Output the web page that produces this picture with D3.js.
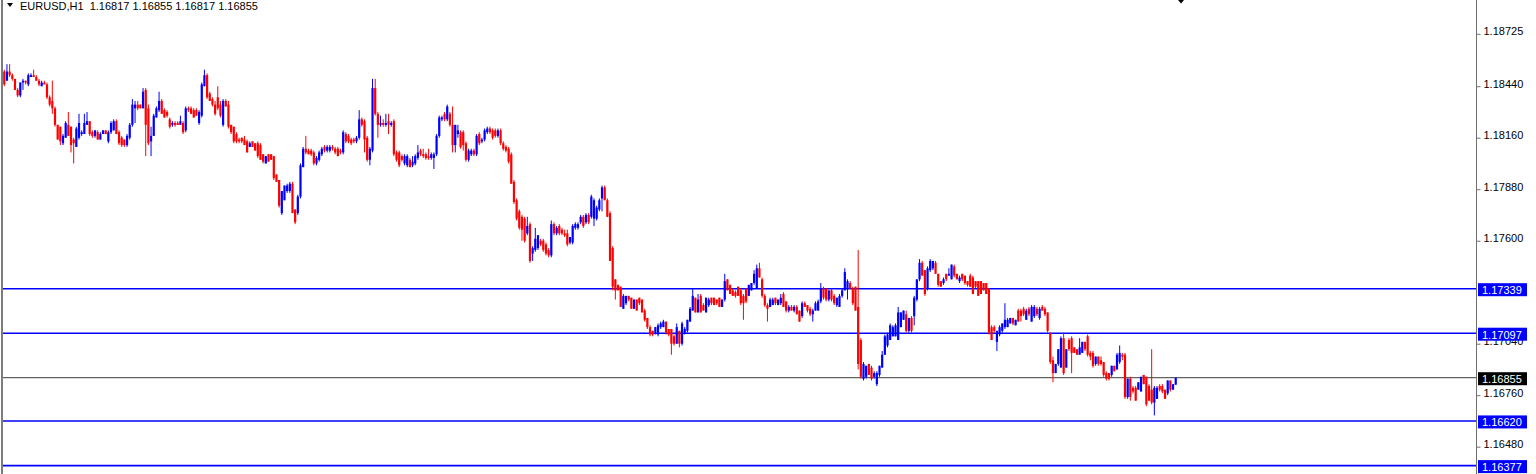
<!DOCTYPE html>
<html><head><meta charset="utf-8">
<script src="https://cdn.jsdelivr.net/npm/d3@7"></script>
<style>html,body{margin:0;padding:0;background:#fff;overflow:hidden}svg{display:block}</style>
</head><body>
<svg id="c" width="1536" height="474"></svg>
<script>
const symbolTitle = "EURUSD,H1";
const lastBar = ["1.16817", "1.16855", "1.16817", "1.16855"];
const opens = [
1.1852,1.1847,1.1852,1.1850,1.1848,1.1842,1.1839,1.1846,1.1847,1.1845,
1.1849,1.1850,1.1849,1.1847,1.1844,1.1846,1.1845,1.1838,1.1836,1.1832,
1.1823,1.1822,1.1813,1.1816,1.1823,1.1822,1.1815,1.1811,1.1816,1.1818,
1.1818,1.1823,1.1825,1.1819,1.1817,1.1819,1.1815,1.1818,1.1820,1.1814,
1.1819,1.1820,1.1825,1.1819,1.1816,1.1815,1.1812,1.1816,1.1823,1.1832,
1.1834,1.1834,1.1832,1.1842,1.1832,1.1814,1.1817,1.1827,1.1831,1.1836,
1.1831,1.1830,1.1826,1.1823,1.1824,1.1824,1.1823,1.1824,1.1820,1.1832,
1.1832,1.1831,1.1831,1.1824,1.1828,1.1844,1.1850,1.1840,1.1837,1.1834,
1.1838,1.1834,1.1823,1.1836,1.1834,1.1823,1.1822,1.1818,1.1815,1.1816,
1.1815,1.1814,1.1811,1.1814,1.1813,1.1813,1.1812,1.1807,1.1802,1.1807,
1.1807,1.1806,1.1796,1.1793,1.1775,1.1782,1.1787,1.1787,1.1791,1.1777,
1.1775,1.1784,1.1800,1.1810,1.1809,1.1809,1.1808,1.1802,1.1804,1.1807,
1.1811,1.1809,1.1809,1.1811,1.1810,1.1810,1.1809,1.1808,1.1818,1.1817,
1.1815,1.1815,1.1814,1.1816,1.1826,1.1825,1.1816,1.1804,1.1809,1.1843,
1.1829,1.1823,1.1824,1.1823,1.1825,1.1823,1.1825,1.1808,1.1808,1.1806,
1.1802,1.1801,1.1804,1.1801,1.1802,1.1805,1.1809,1.1807,1.1807,1.1806,
1.1805,1.1805,1.1807,1.1817,1.1826,1.1829,1.1826,1.1829,1.1823,1.1812,
1.1818,1.1819,1.1819,1.1813,1.1804,1.1807,1.1809,1.1807,1.1818,1.1814,
1.1815,1.1819,1.1821,1.1820,1.1820,1.1817,1.1820,1.1813,1.1811,1.1810,
1.1807,1.1792,1.1782,1.1776,1.1773,1.1772,1.1764,1.1769,1.1753,1.1755,
1.1756,1.1760,1.1760,1.1758,1.1755,1.1752,1.1769,1.1764,1.1768,1.1766,
1.1764,1.1764,1.1759,1.1759,1.1767,1.1767,1.1770,1.1773,1.1770,1.1774,
1.1773,1.1772,1.1772,1.1777,1.1783,1.1789,1.1782,1.1775,1.1756,1.1739,
1.1736,1.1735,1.1723,1.1726,1.1730,1.1729,1.1723,1.1728,1.1729,1.1728,
1.1722,1.1718,1.1713,1.1711,1.1710,1.1709,1.1713,1.1713,1.1716,1.1712,
1.1712,1.1708,1.1704,1.1711,1.1704,1.1710,1.1711,1.1716,1.1722,1.1729,
1.1721,1.1730,1.1725,1.1721,1.1725,1.1729,1.1729,1.1728,1.1729,1.1724,
1.1728,1.1739,1.1736,1.1733,1.1732,1.1735,1.1733,1.1730,1.1734,1.1730,
1.1733,1.1737,1.1734,1.1745,1.1739,1.1730,1.1725,1.1724,1.1725,1.1729,
1.1725,1.1726,1.1731,1.1727,1.1722,1.1724,1.1722,1.1724,1.1722,1.1719,
1.1726,1.1725,1.1723,1.1720,1.1722,1.1722,1.1727,1.1734,1.1734,1.1728,
1.1733,1.1730,1.1725,1.1724,1.1730,1.1733,1.1734,1.1737,1.1734,1.1735,
1.1724,1.1706,1.1685,1.1686,1.1693,1.1691,1.1686,1.1682,1.1687,1.1691,
1.1698,1.1703,1.1706,1.1708,1.1708,1.1706,1.1713,1.1717,1.1720,1.1711,
1.1718,1.1719,1.1728,1.1739,1.1748,1.1744,1.1734,1.1744,1.1745,1.1748,
1.1742,1.1738,1.1737,1.1742,1.1741,1.1739,1.1746,1.1742,1.1738,1.1742,
1.1741,1.1738,1.1741,1.1740,1.1738,1.1738,1.1738,1.1737,1.1737,1.1734,
1.1713,1.1713,1.1705,1.1709,1.1711,1.1713,1.1713,1.1715,1.1718,1.1714,
1.1722,1.1722,1.1723,1.1717,1.1723,1.1716,1.1719,1.1723,1.1718,1.1724,
1.1723,1.1721,1.1710,1.1695,1.1688,1.1693,1.1691,1.1707,1.1691,1.1706,
1.1707,1.1702,1.1701,1.1698,1.1699,1.1705,1.1708,1.1699,1.1699,1.1693,
1.1697,1.1695,1.1694,1.1688,1.1688,1.1687,1.1692,1.1690,1.1694,1.1698,
1.1698,1.1675,1.1685,1.1680,1.1680,1.1679,1.1678,1.1687,1.1686,1.1681,
1.1679,1.1672,1.1674,1.1681,1.1681,1.1679,1.1677,1.1684,1.1679,1.16817];
const highs = [
1.1853,1.1856,1.1856,1.1851,1.1848,1.1843,1.1846,1.1848,1.1847,1.1851,
1.1851,1.1853,1.1850,1.1848,1.1847,1.1847,1.1846,1.1839,1.1847,1.1833,
1.1823,1.1822,1.1818,1.1825,1.1830,1.1822,1.1816,1.1822,1.1829,1.1820,
1.1829,1.1830,1.1825,1.1820,1.1820,1.1820,1.1819,1.1820,1.1820,1.1820,
1.1825,1.1826,1.1826,1.1820,1.1817,1.1815,1.1818,1.1824,1.1837,1.1836,
1.1836,1.1834,1.1843,1.1843,1.1834,1.1822,1.1829,1.1833,1.1841,1.1837,
1.1832,1.1831,1.1827,1.1825,1.1825,1.1825,1.1828,1.1825,1.1833,1.1833,
1.1833,1.1832,1.1832,1.1831,1.1846,1.1853,1.1851,1.1841,1.1838,1.1836,
1.1844,1.1836,1.1837,1.1837,1.1836,1.1823,1.1822,1.1819,1.1816,1.1816,
1.1817,1.1815,1.1814,1.1814,1.1813,1.1814,1.1813,1.1807,1.1806,1.1807,
1.1807,1.1806,1.1796,1.1793,1.1787,1.1790,1.1791,1.1792,1.1792,1.1777,
1.1785,1.1802,1.1811,1.1817,1.1810,1.1810,1.1809,1.1806,1.1809,1.1811,
1.1812,1.1812,1.1812,1.1812,1.1811,1.1811,1.1810,1.1820,1.1819,1.1818,
1.1816,1.1816,1.1817,1.1831,1.1827,1.1826,1.1817,1.1811,1.1848,1.1848,
1.1830,1.1828,1.1826,1.1829,1.1829,1.1825,1.1826,1.1809,1.1809,1.1807,
1.1807,1.1807,1.1805,1.1806,1.1807,1.1812,1.1810,1.1810,1.1808,1.1810,
1.1808,1.1808,1.1818,1.1828,1.1828,1.1830,1.1834,1.1830,1.1833,1.1823,
1.1823,1.1820,1.1820,1.1814,1.1810,1.1810,1.1810,1.1818,1.1819,1.1816,
1.1821,1.1822,1.1822,1.1821,1.1821,1.1821,1.1821,1.1814,1.1812,1.1811,
1.1808,1.1793,1.1783,1.1777,1.1774,1.1773,1.1773,1.1770,1.1757,1.1767,
1.1763,1.1761,1.1761,1.1759,1.1756,1.1771,1.1770,1.1768,1.1769,1.1767,
1.1766,1.1766,1.1762,1.1769,1.1770,1.1770,1.1774,1.1774,1.1775,1.1775,
1.1785,1.1783,1.1779,1.1783,1.1790,1.1790,1.1783,1.1776,1.1757,1.1739,
1.1736,1.1735,1.1731,1.1730,1.1730,1.1729,1.1728,1.1728,1.1729,1.1728,
1.1723,1.1718,1.1714,1.1711,1.1713,1.1715,1.1716,1.1717,1.1716,1.1712,
1.1712,1.1709,1.1715,1.1711,1.1716,1.1713,1.1717,1.1724,1.1734,1.1729,
1.1731,1.1731,1.1726,1.1729,1.1729,1.1729,1.1729,1.1728,1.1729,1.1728,
1.1742,1.1739,1.1736,1.1734,1.1733,1.1735,1.1734,1.1731,1.1734,1.1736,
1.1737,1.1744,1.1747,1.1748,1.1740,1.1731,1.1726,1.1729,1.1729,1.1729,
1.1728,1.1731,1.1732,1.1727,1.1725,1.1725,1.1725,1.1725,1.1722,1.1727,
1.1727,1.1725,1.1724,1.1723,1.1727,1.1728,1.1737,1.1735,1.1734,1.1733,
1.1734,1.1731,1.1729,1.1731,1.1734,1.1745,1.1739,1.1738,1.1735,1.1735,
1.1755,1.1707,1.1694,1.1692,1.1693,1.1692,1.1689,1.1689,1.1692,1.1700,
1.1709,1.1710,1.1715,1.1714,1.1715,1.1724,1.1721,1.1722,1.1722,1.1718,
1.1719,1.1730,1.1739,1.1750,1.1749,1.1744,1.1746,1.1750,1.1749,1.1749,
1.1742,1.1738,1.1740,1.1742,1.1745,1.1747,1.1747,1.1742,1.1741,1.1742,
1.1741,1.1738,1.1742,1.1741,1.1738,1.1738,1.1738,1.1737,1.1737,1.1734,
1.1714,1.1714,1.1711,1.1714,1.1715,1.1726,1.1718,1.1718,1.1718,1.1717,
1.1723,1.1723,1.1724,1.1723,1.1724,1.1725,1.1725,1.1724,1.1724,1.1725,
1.1724,1.1721,1.1710,1.1697,1.1693,1.1701,1.1708,1.1710,1.1701,1.1707,
1.1708,1.1702,1.1701,1.1707,1.1705,1.1705,1.1709,1.1700,1.1700,1.1697,
1.1697,1.1697,1.1694,1.1689,1.1688,1.1692,1.1692,1.1699,1.1703,1.1699,
1.1699,1.1685,1.1686,1.1681,1.1681,1.1683,1.1686,1.1687,1.1686,1.1682,
1.1701,1.1681,1.1681,1.1682,1.1682,1.1679,1.1684,1.1684,1.1682,1.16855];
const lows = [
1.1844,1.1847,1.1849,1.1847,1.1842,1.1838,1.1838,1.1842,1.1845,1.1844,
1.1849,1.1849,1.1847,1.1844,1.1844,1.1845,1.1837,1.1833,1.1829,1.1822,
1.1815,1.1812,1.1812,1.1816,1.1817,1.1808,1.1802,1.1811,1.1815,1.1817,
1.1818,1.1823,1.1817,1.1816,1.1816,1.1815,1.1815,1.1818,1.1818,1.1813,
1.1818,1.1820,1.1818,1.1812,1.1811,1.1811,1.1811,1.1815,1.1822,1.1824,
1.1831,1.1832,1.1832,1.1806,1.1812,1.1806,1.1817,1.1827,1.1830,1.1829,
1.1827,1.1827,1.1821,1.1822,1.1822,1.1823,1.1823,1.1818,1.1819,1.1830,
1.1829,1.1827,1.1828,1.1823,1.1827,1.1844,1.1837,1.1836,1.1833,1.1828,
1.1831,1.1827,1.1822,1.1833,1.1821,1.1818,1.1813,1.1813,1.1813,1.1813,
1.1812,1.1808,1.1811,1.1811,1.1809,1.1805,1.1804,1.1802,1.1802,1.1803,
1.1804,1.1793,1.1792,1.1778,1.1774,1.1782,1.1786,1.1786,1.1775,1.1769,
1.1774,1.1783,1.1800,1.1807,1.1807,1.1806,1.1801,1.1801,1.1803,1.1806,
1.1808,1.1808,1.1808,1.1809,1.1807,1.1806,1.1807,1.1807,1.1813,1.1813,
1.1812,1.1813,1.1813,1.1815,1.1822,1.1808,1.1803,1.1801,1.1808,1.1828,
1.1816,1.1822,1.1822,1.1822,1.1818,1.1822,1.1806,1.1803,1.1800,1.1803,
1.1801,1.1800,1.1800,1.1800,1.1801,1.1804,1.1806,1.1805,1.1804,1.1804,
1.1804,1.1799,1.1806,1.1816,1.1825,1.1825,1.1825,1.1822,1.1808,1.1808,
1.1816,1.1810,1.1809,1.1803,1.1803,1.1806,1.1806,1.1806,1.1812,1.1813,
1.1814,1.1818,1.1818,1.1815,1.1816,1.1816,1.1812,1.1809,1.1808,1.1802,
1.1791,1.1780,1.1771,1.1766,1.1760,1.1759,1.1763,1.1748,1.1749,1.1754,
1.1755,1.1757,1.1754,1.1752,1.1751,1.1751,1.1763,1.1763,1.1763,1.1763,
1.1762,1.1757,1.1758,1.1758,1.1766,1.1766,1.1769,1.1767,1.1769,1.1769,
1.1772,1.1768,1.1771,1.1776,1.1776,1.1782,1.1773,1.1749,1.1733,1.1728,
1.1733,1.1724,1.1723,1.1725,1.1727,1.1723,1.1723,1.1722,1.1725,1.1721,
1.1716,1.1712,1.1708,1.1708,1.1709,1.1708,1.1712,1.1713,1.1709,1.1708,
1.1698,1.1703,1.1704,1.1702,1.1703,1.1709,1.1710,1.1716,1.1722,1.1721,
1.1721,1.1721,1.1722,1.1721,1.1724,1.1725,1.1725,1.1725,1.1724,1.1724,
1.1727,1.1733,1.1731,1.1730,1.1729,1.1730,1.1725,1.1717,1.1726,1.1730,
1.1733,1.1736,1.1734,1.1740,1.1729,1.1724,1.1716,1.1724,1.1725,1.1725,
1.1725,1.1725,1.1724,1.1721,1.1721,1.1722,1.1721,1.1720,1.1716,1.1718,
1.1724,1.1721,1.1719,1.1716,1.1722,1.1722,1.1726,1.1728,1.1727,1.1727,
1.1727,1.1725,1.1724,1.1724,1.1729,1.1733,1.1728,1.1734,1.1725,1.1722,
1.1690,1.1685,1.1684,1.1685,1.1687,1.1684,1.1685,1.1681,1.1686,1.1691,
1.1698,1.1702,1.1706,1.1708,1.1708,1.1706,1.1713,1.1717,1.1710,1.1710,
1.1710,1.1714,1.1727,1.1738,1.1741,1.1730,1.1733,1.1743,1.1744,1.1742,
1.1735,1.1735,1.1736,1.1738,1.1741,1.1739,1.1740,1.1739,1.1737,1.1738,
1.1736,1.1735,1.1735,1.1731,1.1734,1.1730,1.1731,1.1733,1.1731,1.1709,
1.1706,1.1710,1.1700,1.1708,1.1710,1.1712,1.1713,1.1715,1.1714,1.1714,
1.1716,1.1716,1.1719,1.1717,1.1719,1.1716,1.1718,1.1719,1.1717,1.1722,
1.1719,1.1710,1.1693,1.1683,1.1688,1.1692,1.1691,1.1687,1.1691,1.1700,
1.1688,1.1699,1.1698,1.1698,1.1699,1.1700,1.1697,1.1695,1.1691,1.1692,
1.1692,1.1692,1.1686,1.1684,1.1684,1.1686,1.1689,1.1690,1.1693,1.1695,
1.1674,1.1674,1.1673,1.1677,1.1673,1.1679,1.1678,1.1682,1.1670,1.1673,
1.1671,1.1665,1.1674,1.1678,1.1677,1.1674,1.1676,1.1678,1.1679,1.16817];
const closes = [
1.1845,1.1852,1.1850,1.1848,1.1842,1.1839,1.1846,1.1847,1.1846,1.1850,
1.1850,1.1849,1.1847,1.1845,1.1846,1.1845,1.1838,1.1834,1.1832,1.1823,
1.1815,1.1814,1.1817,1.1824,1.1817,1.1812,1.1813,1.1821,1.1824,1.1819,
1.1824,1.1825,1.1818,1.1817,1.1820,1.1815,1.1818,1.1820,1.1818,1.1819,
1.1824,1.1825,1.1818,1.1813,1.1812,1.1812,1.1817,1.1823,1.1834,1.1834,
1.1832,1.1832,1.1841,1.1823,1.1813,1.1817,1.1828,1.1832,1.1836,1.1829,
1.1827,1.1828,1.1822,1.1824,1.1823,1.1823,1.1825,1.1819,1.1832,1.1831,
1.1829,1.1827,1.1828,1.1830,1.1845,1.1850,1.1838,1.1836,1.1834,1.1829,
1.1832,1.1828,1.1836,1.1833,1.1822,1.1819,1.1814,1.1814,1.1814,1.1814,
1.1812,1.1808,1.1813,1.1811,1.1809,1.1806,1.1804,1.1803,1.1806,1.1803,
1.1804,1.1794,1.1792,1.1779,1.1787,1.1790,1.1790,1.1791,1.1775,1.1770,
1.1784,1.1801,1.1810,1.1808,1.1807,1.1807,1.1802,1.1805,1.1808,1.1810,
1.1809,1.1811,1.1811,1.1810,1.1808,1.1806,1.1808,1.1819,1.1814,1.1814,
1.1813,1.1814,1.1816,1.1826,1.1823,1.1815,1.1804,1.1810,1.1843,1.1829,
1.1823,1.1824,1.1823,1.1824,1.1823,1.1824,1.1807,1.1804,1.1801,1.1804,
1.1806,1.1806,1.1800,1.1803,1.1806,1.1808,1.1807,1.1806,1.1805,1.1805,
1.1807,1.1807,1.1817,1.1827,1.1827,1.1826,1.1833,1.1823,1.1812,1.1823,
1.1820,1.1811,1.1812,1.1804,1.1809,1.1809,1.1807,1.1817,1.1813,1.1815,
1.1820,1.1821,1.1819,1.1816,1.1817,1.1820,1.1813,1.1810,1.1809,1.1803,
1.1791,1.1781,1.1772,1.1767,1.1766,1.1760,1.1768,1.1749,1.1756,1.1761,
1.1763,1.1758,1.1755,1.1753,1.1752,1.1769,1.1764,1.1767,1.1764,1.1764,
1.1763,1.1758,1.1762,1.1768,1.1769,1.1769,1.1773,1.1768,1.1774,1.1770,
1.1784,1.1782,1.1778,1.1782,1.1789,1.1782,1.1773,1.1749,1.1735,1.1733,
1.1733,1.1724,1.1730,1.1730,1.1728,1.1723,1.1728,1.1722,1.1726,1.1721,
1.1717,1.1713,1.1709,1.1709,1.1713,1.1714,1.1715,1.1716,1.1710,1.1709,
1.1704,1.1704,1.1713,1.1704,1.1715,1.1712,1.1717,1.1723,1.1730,1.1721,
1.1728,1.1721,1.1722,1.1729,1.1728,1.1726,1.1725,1.1726,1.1724,1.1728,
1.1738,1.1733,1.1731,1.1730,1.1730,1.1730,1.1726,1.1726,1.1727,1.1736,
1.1737,1.1742,1.1745,1.1740,1.1730,1.1725,1.1723,1.1728,1.1728,1.1726,
1.1728,1.1729,1.1724,1.1722,1.1724,1.1722,1.1724,1.1720,1.1716,1.1726,
1.1724,1.1722,1.1720,1.1722,1.1726,1.1727,1.1734,1.1729,1.1728,1.1733,
1.1728,1.1726,1.1729,1.1730,1.1733,1.1743,1.1738,1.1734,1.1726,1.1722,
1.1693,1.1686,1.1693,1.1692,1.1687,1.1685,1.1688,1.1688,1.1692,1.1698,
1.1708,1.1709,1.1714,1.1713,1.1714,1.1721,1.1721,1.1722,1.1711,1.1718,
1.1711,1.1729,1.1739,1.1748,1.1741,1.1731,1.1745,1.1749,1.1749,1.1742,
1.1736,1.1735,1.1739,1.1739,1.1742,1.1747,1.1741,1.1739,1.1740,1.1739,
1.1737,1.1736,1.1735,1.1731,1.1735,1.1730,1.1731,1.1733,1.1731,1.1710,
1.1706,1.1711,1.1711,1.1713,1.1715,1.1717,1.1717,1.1718,1.1715,1.1717,
1.1716,1.1719,1.1720,1.1722,1.1720,1.1724,1.1724,1.1720,1.1723,1.1722,
1.1720,1.1711,1.1694,1.1688,1.1693,1.1701,1.1707,1.1688,1.1701,1.1701,
1.1699,1.1699,1.1698,1.1702,1.1705,1.1701,1.1698,1.1697,1.1692,1.1697,
1.1693,1.1693,1.1687,1.1685,1.1685,1.1692,1.1689,1.1698,1.1699,1.1697,
1.1675,1.1685,1.1675,1.1678,1.1673,1.1683,1.1686,1.1682,1.1671,1.1673,
1.1672,1.1680,1.1680,1.1679,1.1678,1.1674,1.1684,1.1679,1.1682,1.16855];
const tickValues = [1.18725, 1.18440, 1.18160, 1.17880, 1.17600, 1.17040, 1.16760, 1.16480];
const levelValues = [1.17339, 1.17097, 1.16620, 1.16377];
const currentPrice = 1.16855;
const priceMin = 1.163314, priceMax = 1.189089;

const W = 1536, H = 474, axisX = 1476.5;
const bull = "#0000ff", bear = "#ff0000", levelColor = "#0000ff";
const FONT = "'Liberation Sans', Arial, sans-serif";

const svg = d3.select("#c");
svg.append("rect").attr("width", W).attr("height", H).attr("fill", "#fff");

const y = d3.scaleLinear().domain([priceMin, priceMax]).range([H, 0]);
const x = d3.scaleLinear().domain([0, opens.length - 1]).range([4.3, 1175.7]);

// left frame border
svg.append("line").attr("x1", 2).attr("x2", 2).attr("y1", 0).attr("y2", H)
  .attr("stroke", "#505050").attr("stroke-width", 1.5);

// horizontal level lines
svg.selectAll("line.level").data(levelValues).join("line").attr("class", "level")
  .attr("x1", 3).attr("x2", axisX)
  .attr("y1", d => y(d)).attr("y2", d => y(d))
  .attr("stroke", levelColor).attr("stroke-width", 1.6);
svg.append("line").attr("x1", 3).attr("x2", axisX)
  .attr("y1", y(currentPrice)).attr("y2", y(currentPrice))
  .attr("stroke", "#3a3a3a").attr("stroke-width", 1);

// candles
const idx = d3.range(opens.length);
const colorOf = i => closes[i] >= opens[i] ? bull : bear;
const cg = svg.append("g");
cg.selectAll("line.wick").data(idx).join("line").attr("class", "wick")
  .attr("x1", i => x(i)).attr("x2", i => x(i))
  .attr("y1", i => y(highs[i])).attr("y2", i => y(lows[i]))
  .attr("stroke", colorOf).attr("stroke-width", 1);
cg.selectAll("rect.body").data(idx).join("rect").attr("class", "body")
  .attr("x", i => x(i) - 1.1).attr("width", 2.2)
  .attr("y", i => y(Math.max(opens[i], closes[i])))
  .attr("height", i => Math.max(1, Math.abs(y(opens[i]) - y(closes[i]))))
  .attr("fill", colorOf);

// price axis
svg.append("line").attr("x1", axisX).attr("x2", axisX).attr("y1", 0).attr("y2", H)
  .attr("stroke", "#707070").attr("stroke-width", 1);
const axis = d3.axisRight(y).tickValues(tickValues).tickFormat(d3.format(".5f"))
  .tickSize(4).tickPadding(3);
const ag = svg.append("g").attr("transform", `translate(${axisX},0)`).call(axis);
ag.select(".domain").remove();
ag.selectAll(".tick line").attr("stroke", "#707070");
ag.selectAll(".tick text").attr("font-family", FONT).attr("font-size", 11)
  .attr("fill", "#000").attr("dy", "0.1em");

// level price boxes
const boxes = levelValues.map(v => ({v, fill: levelColor})).concat([{v: currentPrice, fill: "#000"}]);
const bg = svg.append("g");
bg.selectAll("rect").data(boxes).join("rect")
  .attr("x", 1478).attr("width", 49)
  .attr("y", d => y(d.v) - 5.5).attr("height", 13)
  .attr("fill", d => d.fill);
bg.selectAll("text").data(boxes).join("text")
  .attr("x", 1482).attr("y", d => y(d.v) + 5.5)
  .attr("font-family", FONT).attr("font-size", 11).attr("fill", "#fff")
  .text(d => d3.format(".5f")(d.v));

// header
svg.append("path").attr("d", "M7,3 L13,3 L10,7 Z").attr("fill", "#000");
svg.append("text").attr("x", 20).attr("y", 10)
  .attr("font-family", FONT).attr("font-size", 11).attr("fill", "#000")
  .style("white-space", "pre")
  .text(symbolTitle + "  " + lastBar.join(" "));

// small marker at top
svg.append("path").attr("d", "M1178,0 L1184,0 L1181,3.5 Z").attr("fill", "#000");
</script>
</body></html>
